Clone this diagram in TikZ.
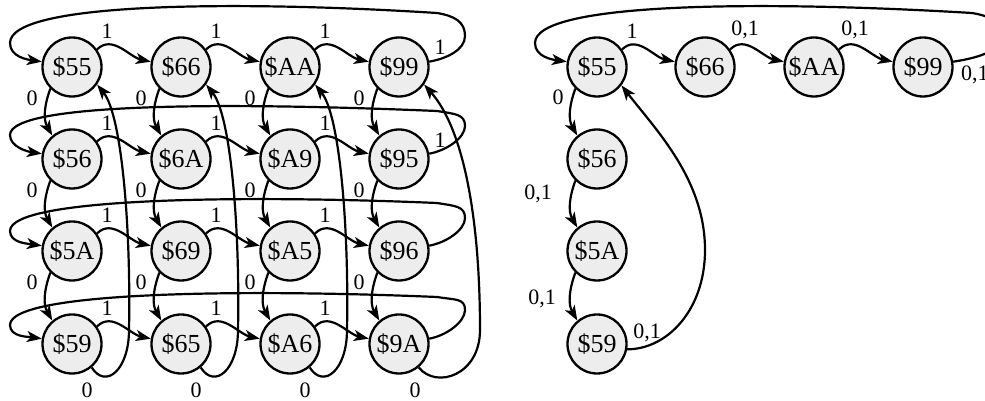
\documentclass[tikz,border=0pt]{standalone}
\usepackage{fontspec}
\setmainfont{Liberation Serif}
\usetikzlibrary{arrows.meta,calc}
\begin{document}
\begin{tikzpicture}[x=1pt,y=1pt,
  state/.style={circle, draw, line width=2.3pt, fill=black!7, minimum size=59pt, inner sep=0pt, font=\fontsize{26}{26}\selectfont},
  arr/.style={line width=2.2pt, -{Stealth[length=15pt,width=11pt,inset=4pt]}},
  lbl/.style={font=\fontsize{22}{22}\selectfont, inner sep=0pt}]
\useasboundingbox (0,0) rectangle (985,401);
% left grid
\node[state] (n55) at (72,334) {\$55};
\node[state] (n66) at (181,334) {\$66};
\node[state] (nAA) at (290,334) {\$AA};
\node[state] (n99) at (399,334) {\$99};
\node[state] (n56) at (72,242) {\$56};
\node[state] (n6A) at (181,242) {\$6A};
\node[state] (nA9) at (290,242) {\$A9};
\node[state] (n95) at (399,242) {\$95};
\node[state] (n5A) at (72,150) {\$5A};
\node[state] (n69) at (181,150) {\$69};
\node[state] (nA5) at (290,150) {\$A5};
\node[state] (n96) at (399,150) {\$96};
\node[state] (n59) at (72,57) {\$59};
\node[state] (n65) at (181,57) {\$65};
\node[state] (nA6) at (290,57) {\$A6};
\node[state] (n9A) at (399,57) {\$9A};
% right graph
\node[state] (m55) at (597,334) {\$55};
\node[state] (m66) at (705,334) {\$66};
\node[state] (mAA) at (814,334) {\$AA};
\node[state] (m99) at (923,334) {\$99};
\node[state] (m56) at (597,242) {\$56};
\node[state] (m5A) at (597,150) {\$5A};
\node[state] (m59) at (597,57) {\$59};
% horizontal 1-edges
\foreach \u/\v in {55/66,66/AA,AA/99,56/6A,6A/A9,A9/95,5A/69,69/A5,A5/96,59/65,65/A6,A6/9A}
  \draw[arr] (n\u.35) to[out=45,in=168] (n\v.170) node[lbl] at ($(n\u)+(35,36)$) {1};
% vertical 0-edges
\foreach \u/\v in {55/56,56/5A,5A/59,66/6A,6A/69,69/65,AA/A9,A9/A5,A5/A6,99/95,95/96,96/9A}
  \draw[arr] (n\u.-135) to[out=-110,in=120] (n\v.130) node[lbl] at ($(n\u)+(-40,-31)$) {0};
% row wrap-arounds
\draw[arr] (n99.10) .. controls +(17,3) and +(0,-14) .. (465,365) .. controls +(0,14) and +(18,-3) .. (437,388) .. controls +(-190,12) and +(0,42) .. (10,358) .. controls +(0,-14) and +(-14,2) .. (n55.170)
  node[lbl] at (440,354) {1};
\draw[arr] (n95.10) .. controls +(17,3) and +(0,-12) .. (465,275) .. controls +(0,12) and +(18,-3) .. (437,290) .. controls +(-190,8) and +(0,34) .. (10,266) .. controls +(0,-12) and +(-14,2) .. (n56.170)
  node[lbl] at (440,261) {1};
\draw[arr] (n96.10) .. controls +(17,3) and +(0,-12) .. (465,183) .. controls +(0,12) and +(18,-3) .. (437,198) .. controls +(-190,8) and +(0,34) .. (10,170) .. controls +(0,-12) and +(-14,2) .. (n5A.170);
\draw[arr] (n9A.10) .. controls +(17,3) and +(0,-12) .. (465,91) .. controls +(0,12) and +(18,-3) .. (437,104) .. controls +(-190,8) and +(0,34) .. (10,76) .. controls +(0,-12) and +(-14,2) .. (n59.170);
% bottom returns
\draw[arr] (n59.-50) .. controls +(14,-22) and +(0,-40) .. (129,71) .. controls +(2,100) and +(25,-31) .. (n55.-35) node[lbl] at (87,11) {0};
\draw[arr] (n65.-50) .. controls +(14,-22) and +(0,-40) .. (238,71) .. controls +(2,100) and +(25,-31) .. (n66.-35) node[lbl] at (196,11) {0};
\draw[arr] (nA6.-50) .. controls +(14,-22) and +(0,-40) .. (347,71) .. controls +(2,100) and +(25,-31) .. (nAA.-35) node[lbl] at (305,11) {0};
\draw[arr] (n9A.-50) .. controls +(18,-22) and +(0,-45) .. (480,71) .. controls +(0,110) and +(40,-45) .. (n99.-35) node[lbl] at (415,11) {0};
% right graph edges
\draw[arr] (m55.35) to[out=45,in=168] (m66.170) node[lbl] at ($(m55)+(35,36)$) {1};
\draw[arr] (m66.35) to[out=45,in=168] (mAA.170) node[lbl] at ($(m66)+(40,37)$) {0,1};
\draw[arr] (mAA.35) to[out=45,in=168] (m99.170) node[lbl] at ($(mAA)+(41,37)$) {0,1};
\draw[arr] (m55.-135) to[out=-110,in=120] (m56.130) node[lbl] at ($(m55)+(-39,-30)$) {0};
\draw[arr] (m56.-135) to[out=-110,in=120] (m5A.130) node[lbl] at ($(m56)+(-59,-35)$) {0,1};
\draw[arr] (m5A.-135) to[out=-110,in=120] (m59.130) node[lbl] at ($(m5A)+(-55,-48)$) {0,1};
\draw[arr] (m99.10) .. controls +(20,3) and +(0,-16) .. (1002,365) .. controls +(0,14) and +(18,-3) .. (972,388) .. controls +(-200,12) and +(0,42) .. (535,358) .. controls +(0,-14) and +(-14,2) .. (m55.170)
  node[lbl,anchor=west] at (960,326) {0,1};
\draw[arr] (m59.-10) .. controls +(40,0) and +(0,-60) .. (705,151) .. controls +(0,70) and +(35,-45) .. (m55.-37) node[lbl] at (647,68) {0,1};
\end{tikzpicture}
\end{document}
